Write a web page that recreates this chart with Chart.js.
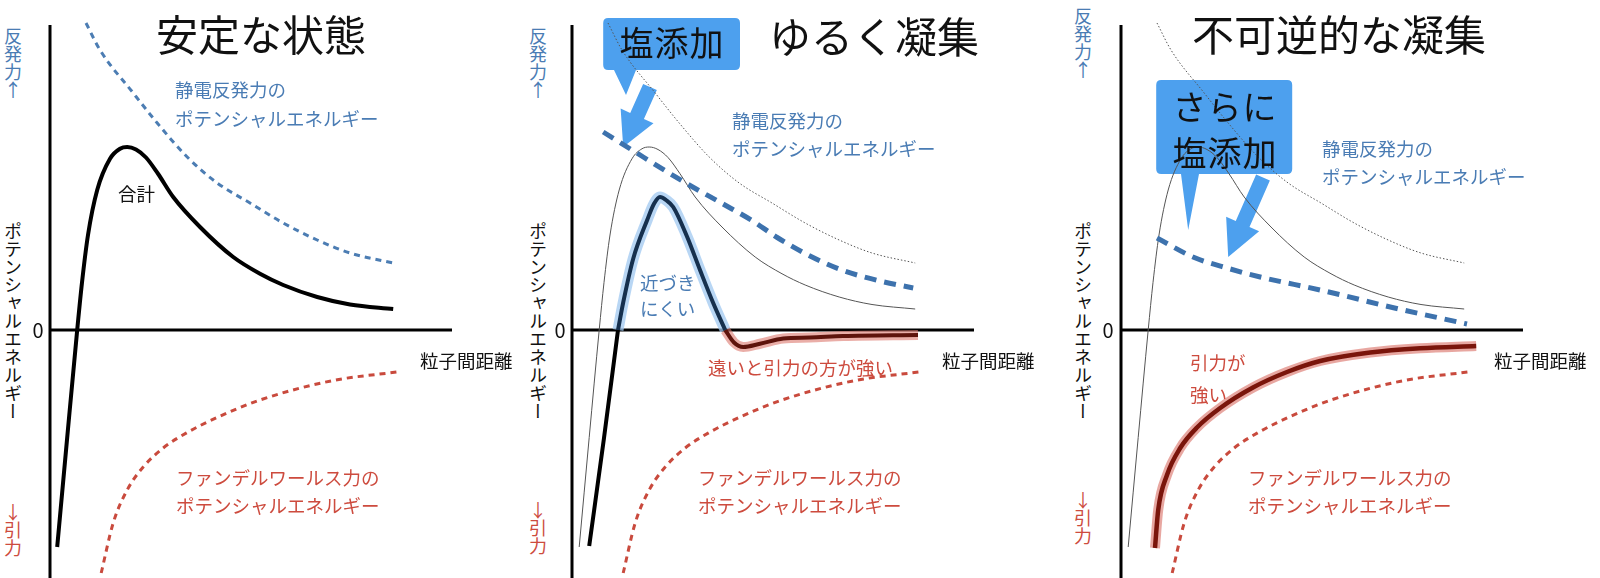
<!DOCTYPE html>
<html lang="ja">
<head>
<meta charset="utf-8">
<script src="https://cdn.jsdelivr.net/npm/chart.js@4.4.1/dist/chart.umd.min.js"></script>
<style>
  body { margin: 0; background: #fff; font-family: "Noto Sans CJK JP", "Noto Sans", sans-serif; }
  #stage { position: relative; width: 1600px; height: 578px; overflow: hidden; }
  .panel { position: absolute; top: 0; }
  .t { position: absolute; white-space: nowrap; line-height: 1; font-size: 18.5px; color: #111; }
  .title { font-size: 42px; }
  .box { font-size: 34px; letter-spacing: 1px; transform: translateX(-50%); }
  .blue { color: #4a7cb4; }
  .red { color: #cd4b3e; }
  .v { writing-mode: vertical-rl; text-orientation: upright; font-size: 18px; }
  .zero { font-size: 20px; transform: translateX(-50%); }
</style>
</head>
<body>
<div id="stage">
  <canvas id="p1" class="panel" width="422" height="578" style="left:40px"></canvas>
  <canvas id="p2" class="panel" width="422" height="578" style="left:562px"></canvas>
  <canvas id="p3" class="panel" width="422" height="578" style="left:1111px"></canvas>

  <!-- panel 1 -->
  <div class="t title" style="left:156px;top:12px">安定な状態</div>
  <div class="t v blue" style="left:4px;top:27px">反発力↑</div>
  <div class="t v" style="left:4px;top:222px">ポテンシャルエネルギー</div>
  <div class="t v red" style="left:4px;top:503px">↓引力</div>
  <div class="t zero" style="left:38px;top:320px">0</div>
  <div class="t blue" style="left:175px;top:80px">静電反発力の</div>
  <div class="t blue" style="left:175px;top:109px">ポテンシャルエネルギー</div>
  <div class="t" style="left:118px;top:184px">合計</div>
  <div class="t" style="left:420px;top:351px">粒子間距離</div>
  <div class="t red" style="left:176px;top:468px">ファンデルワールス力の</div>
  <div class="t red" style="left:176px;top:496px">ポテンシャルエネルギー</div>

  <!-- panel 2 -->
  <div class="t title" style="left:769px;top:14px">ゆるく凝集</div>
  <div class="t v blue" style="left:529px;top:27px">反発力↑</div>
  <div class="t v" style="left:529px;top:222px">ポテンシャルエネルギー</div>
  <div class="t v red" style="left:529px;top:501px">↓引力</div>
  <div class="t zero" style="left:560px;top:320px">0</div>
  <div class="t box" style="left:672px;top:25px">塩添加</div>
  <div class="t blue" style="left:732px;top:111px">静電反発力の</div>
  <div class="t blue" style="left:732px;top:139px">ポテンシャルエネルギー</div>
  <div class="t blue" style="left:640px;top:273px">近づき</div>
  <div class="t blue" style="left:640px;top:299px">にくい</div>
  <div class="t red" style="left:708px;top:358px">遠いと引力の方が強い</div>
  <div class="t" style="left:942px;top:351px">粒子間距離</div>
  <div class="t red" style="left:698px;top:468px">ファンデルワールス力の</div>
  <div class="t red" style="left:698px;top:496px">ポテンシャルエネルギー</div>

  <!-- panel 3 -->
  <div class="t title" style="left:1192px;top:12px">不可逆的な凝集</div>
  <div class="t v blue" style="left:1074px;top:7px">反発力↑</div>
  <div class="t v" style="left:1074px;top:222px">ポテンシャルエネルギー</div>
  <div class="t v red" style="left:1074px;top:491px">↓引力</div>
  <div class="t zero" style="left:1108px;top:320px">0</div>
  <div class="t box" style="left:1225px;top:89px">さらに</div>
  <div class="t box" style="left:1225px;top:135px">塩添加</div>
  <div class="t blue" style="left:1322px;top:139px">静電反発力の</div>
  <div class="t blue" style="left:1322px;top:167px">ポテンシャルエネルギー</div>
  <div class="t red" style="left:1190px;top:353px">引力が</div>
  <div class="t red" style="left:1190px;top:385px">強い</div>
  <div class="t" style="left:1494px;top:351px">粒子間距離</div>
  <div class="t red" style="left:1248px;top:468px">ファンデルワールス力の</div>
  <div class="t red" style="left:1248px;top:496px">ポテンシャルエネルギー</div>
</div>

<script>
// values: x = particle distance, y = potential energy (arbitrary units)
const repulsionX = [0.9, 1.25, 2.08, 2.68, 3.43, 4.18, 5.0, 5.83, 6.68, 7.5, 8.58];
const repulsionY = [12.28, 11.2, 9.48, 8.28, 6.92, 5.88, 5.08, 4.28, 3.6, 3.08, 2.68];

const vdwX = [1.28, 1.58, 1.93, 2.33, 2.83, 3.43, 4.18, 5.25, 7.08, 8.68];
const vdwY = [-9.72, -7.72, -6.4, -5.48, -4.72, -4.1, -3.5, -2.8, -2.02, -1.68];

const stableTotalX = [0.18, 0.43, 0.68, 0.8, 0.95, 1.18, 1.5, 1.75, 1.93, 2.15, 2.4, 2.7, 3.08, 3.75, 4.58, 5.25, 5.83, 6.68, 7.5, 8.58];
const stableTotalY = [-8.68, -4.3, 0, 1.9, 3.8, 5.6, 6.85, 7.25, 7.32, 7.22, 6.9, 6.25, 5.32, 4.12, 2.92, 2.25, 1.8, 1.32, 1.02, 0.84];

// loose aggregation (salt added)
const saltRepulsionX = [0.78, 1.8, 2.8, 3.8, 4.5, 5.13, 5.95, 6.78, 7.7, 8.53];
const saltRepulsionY = [7.92, 6.9, 5.92, 5.02, 4.38, 3.7, 2.96, 2.38, 1.96, 1.68];

const looseWallX = [0.43, 0.8, 1.15];
const looseWallY = [-8.64, -4.32, 0];
const looseBarrierX = [1.15, 1.28, 1.53, 1.88, 2.05, 2.2, 2.35, 2.53, 2.88, 3.2, 3.53, 3.83];
const looseBarrierY = [0, 1.1, 2.85, 4.4, 5.05, 5.32, 5.2, 4.92, 3.72, 2.4, 1.08, 0];
const looseWellX = [3.83, 4.05, 4.28, 4.7, 5.28, 5.95, 6.78, 8.65];
const looseWellY = [0, -0.5, -0.68, -0.55, -0.34, -0.3, -0.24, -0.2];

// irreversible aggregation (more salt)
const moreSaltRepulsionX = [0.9, 1.8, 2.65, 3.48, 4.98, 6.95, 8.65];
const moreSaltRepulsionY = [3.68, 2.92, 2.48, 2.12, 1.6, 0.84, 0.24];

const irreversibleTotalX = [0.85, 0.93, 1.15, 1.48, 1.9, 2.48, 3.3, 4.15, 4.98, 6.23, 7.48, 8.88];
const irreversibleTotalY = [-8.72, -7.2, -5.8, -4.72, -3.9, -3.12, -2.3, -1.68, -1.24, -0.9, -0.73, -0.64];

const BOX_BLUE = '#4da0ee';

const pts = (xs, ys) => xs.map((x, i) => ({ x: x, y: ys[i] }));

function line(xs, ys, style) {
  return Object.assign({
    data: pts(xs, ys),
    showLine: true,
    pointRadius: 0,
    borderWidth: 2,
    borderColor: '#000',
    fill: false,
    cubicInterpolationMode: 'monotone',
    clip: false,
    borderCapStyle: 'butt'
  }, style);
}

const thinDotted = { borderColor: '#555', borderWidth: 1, borderDash: [1.5, 2], order: 8 };
const thinSolid = { borderColor: '#555', borderWidth: 1, order: 8 };
const blueDotted = { borderColor: '#4c7db3', borderWidth: 3, borderDash: [6, 5], order: 5 };
const redDotted = { borderColor: '#c94a3d', borderWidth: 3, borderDash: [6, 5], order: 5 };

// callouts and arrows (given in data units so they follow the scales)
function drawArrow(ctx, x, y, a) {
  const tx = x.getPixelForValue(a.from[0]), ty = y.getPixelForValue(a.from[1]);
  const px = x.getPixelForValue(a.to[0]), py = y.getPixelForValue(a.to[1]);
  const len = Math.hypot(px - tx, py - ty);
  const ux = (px - tx) / len, uy = (py - ty) / len;
  const nx = -uy, ny = ux;
  const bx = px - ux * a.head, by = py - uy * a.head;
  const sw = a.shaft / 2, hw = a.width / 2;
  ctx.beginPath();
  ctx.moveTo(tx + nx * sw, ty + ny * sw);
  ctx.lineTo(bx + nx * sw, by + ny * sw);
  ctx.lineTo(bx + nx * hw, by + ny * hw);
  ctx.lineTo(px, py);
  ctx.lineTo(bx - nx * hw, by - ny * hw);
  ctx.lineTo(bx - nx * sw, by - ny * sw);
  ctx.lineTo(tx - nx * sw, ty - ny * sw);
  ctx.closePath();
  ctx.fill();
}

function drawCallout(ctx, x, y, c) {
  const l = x.getPixelForValue(c.x0), r = x.getPixelForValue(c.x1);
  const t = y.getPixelForValue(c.y1), b = y.getPixelForValue(c.y0);
  const rad = 5;
  ctx.beginPath();
  ctx.moveTo(l + rad, t);
  ctx.lineTo(r - rad, t);
  ctx.quadraticCurveTo(r, t, r, t + rad);
  ctx.lineTo(r, b - rad);
  ctx.quadraticCurveTo(r, b, r - rad, b);
  ctx.lineTo(x.getPixelForValue(c.tail[1]), b);
  ctx.lineTo(x.getPixelForValue(c.tip[0]), y.getPixelForValue(c.tip[1]));
  ctx.lineTo(x.getPixelForValue(c.tail[0]), b);
  ctx.lineTo(l + rad, b);
  ctx.quadraticCurveTo(l, b, l, b - rad);
  ctx.lineTo(l, t + rad);
  ctx.quadraticCurveTo(l, t, l + rad, t);
  ctx.closePath();
  ctx.fill();
}

const sketchPlugin = {
  id: 'sketch',
  beforeDatasetsDraw(chart, args, opts) {
    const { ctx, chartArea, scales: { x, y } } = chart;
    ctx.save();
    ctx.fillStyle = BOX_BLUE;
    if (opts.callout) drawCallout(ctx, x, y, opts.callout);
    if (opts.arrow) drawArrow(ctx, x, y, opts.arrow);
    // axes: vertical energy axis and the zero line
    const x0 = x.getPixelForValue(0), y0 = y.getPixelForValue(0);
    ctx.strokeStyle = '#000';
    ctx.lineWidth = 3;
    ctx.beginPath();
    ctx.moveTo(x0, chartArea.top);
    ctx.lineTo(x0, chartArea.bottom);
    ctx.moveTo(x0, y0);
    ctx.lineTo(chartArea.right, y0);
    ctx.stroke();
    ctx.restore();
  }
};

function makePanel(id, datasets, sketch) {
  new Chart(document.getElementById(id), {
    type: 'scatter',
    data: { datasets: datasets },
    options: {
      responsive: false,
      animation: false,
      events: [],
      layout: { padding: { left: 10, right: 10, top: 25, bottom: 0 } },
      plugins: { legend: { display: false }, tooltip: { enabled: false }, sketch: sketch },
      scales: {
        x: { type: 'linear', display: false, min: 0, max: 10.05 },
        y: { type: 'linear', display: false, min: -9.92, max: 12.2 }
      }
    },
    plugins: [sketchPlugin]
  });
}

makePanel('p1', [
  line(repulsionX, repulsionY, blueDotted),
  line(vdwX, vdwY, redDotted),
  line(stableTotalX, stableTotalY, { borderColor: '#000', borderWidth: 4, order: 1 })
], {});

makePanel('p2', [
  line(repulsionX, repulsionY, thinDotted),
  line(stableTotalX, stableTotalY, thinSolid),
  line(saltRepulsionX, saltRepulsionY, { borderColor: '#3d72ad', borderWidth: 5, borderDash: [12, 8], order: 4 }),
  line(vdwX, vdwY, redDotted),
  line(looseWallX, looseWallY, { borderColor: '#000', borderWidth: 4, order: 1 }),
  line(looseBarrierX, looseBarrierY, { borderColor: 'rgba(160,200,240,0.75)', borderWidth: 11, order: 3 }),
  line(looseBarrierX, looseBarrierY, { borderColor: '#16304e', borderWidth: 4, order: 1 }),
  line(looseWellX, looseWellY, { borderColor: 'rgba(220,120,110,0.6)', borderWidth: 10, order: 3 }),
  line(looseWellX, looseWellY, { borderColor: '#5e140c', borderWidth: 4, order: 1 })
], {
  callout: { x0: 0.78, x1: 4.2, y0: 10.4, y1: 12.48, tail: [1.05, 1.6], tip: [1.35, 9.4] },
  arrow: { from: [1.95, 9.72], to: [1.28, 7.32], shaft: 15, width: 36, head: 34 }
});

makePanel('p3', [
  line(repulsionX, repulsionY, thinDotted),
  line(stableTotalX, stableTotalY, thinSolid),
  line(moreSaltRepulsionX, moreSaltRepulsionY, { borderColor: '#3d72ad', borderWidth: 5, borderDash: [12, 8], order: 4 }),
  line(vdwX, vdwY, redDotted),
  line(irreversibleTotalX, irreversibleTotalY, { borderColor: 'rgba(220,120,110,0.65)', borderWidth: 10, order: 3 }),
  line(irreversibleTotalX, irreversibleTotalY, { borderColor: '#7a150b', borderWidth: 4.5, order: 1 })
], {
  callout: { x0: 0.88, x1: 4.28, y0: 6.24, y1: 10.0, tail: [1.5, 1.95], tip: [1.68, 4.0] },
  arrow: { from: [3.55, 6.1], to: [2.68, 2.92], shaft: 15, width: 36, head: 36 }
});
</script>
</body>
</html>
